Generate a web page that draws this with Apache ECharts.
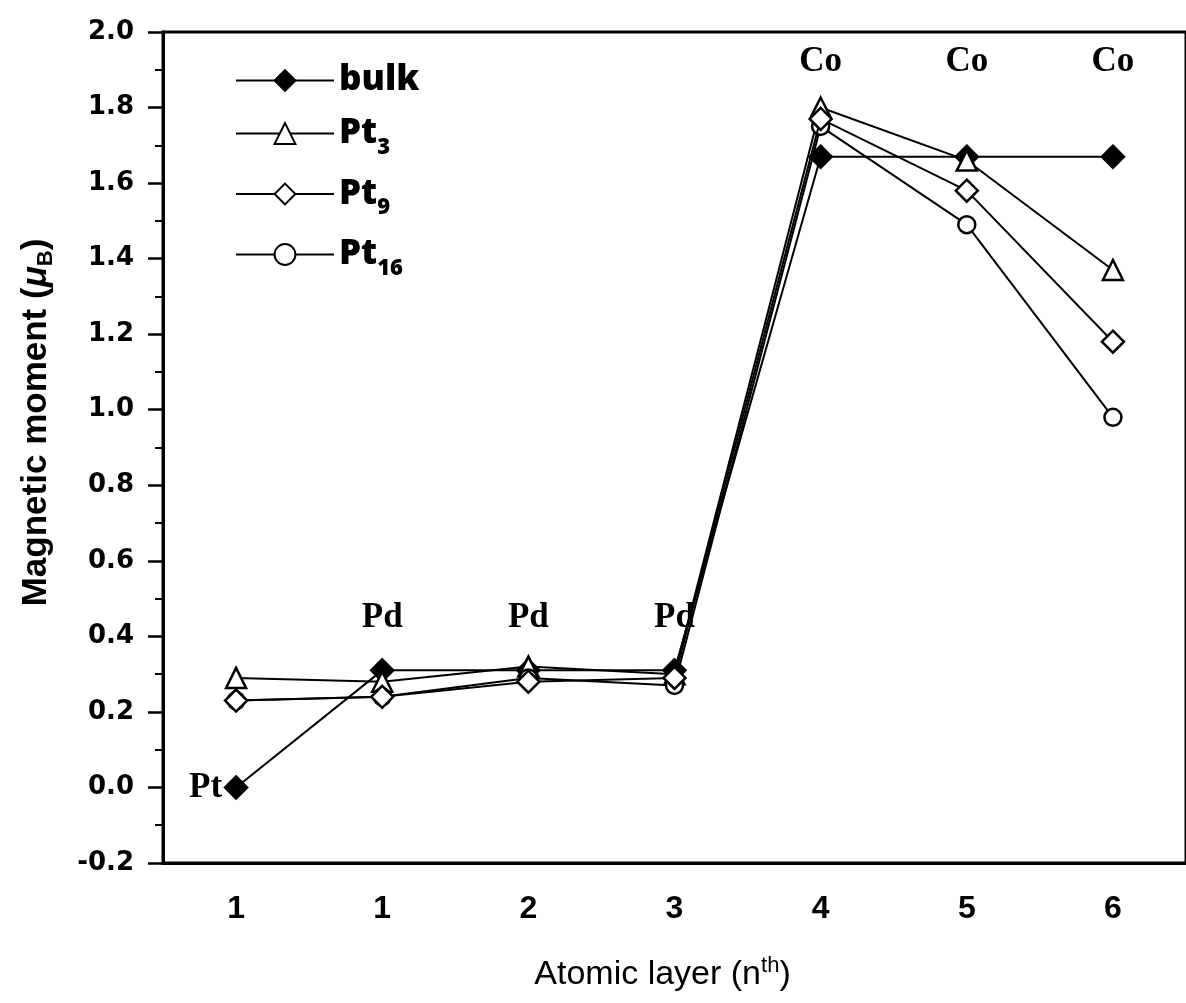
<!DOCTYPE html>
<html>
<head>
<meta charset="utf-8">
<script src="https://cdn.jsdelivr.net/npm/echarts@6/dist/echarts.min.js"></script>
<style>
html, body { margin: 0; padding: 0; background: #fff; }
#chart { width: 1186px; height: 1003px; }
</style>
</head>
<body>
<div id="chart"></div>
<script>
// atomic layer categories (x axis)
var layers = ['1', '1', '2', '3', '4', '5', '6'];
// element of each layer, with where its label sits (y value)
var elements = ['Pt', 'Pd', 'Pd', 'Pd', 'Co', 'Co', 'Co'];
var elementY = [0.0, 0.45, 0.45, 0.45, 1.92, 1.92, 1.92];

// magnetic moments (muB)
var bulk = [0.00, 0.31, 0.31, 0.31, 1.67, 1.67, 1.67];
var pt3  = [0.29, 0.28, 0.32, 0.30, 1.80, 1.66, 1.37];
var pt9  = [0.23, 0.24, 0.28, 0.29, 1.77, 1.58, 1.18];
var pt16 = [0.23, 0.24, 0.29, 0.27, 1.75, 1.49, 0.98];

var yTicks = { min: -0.2, max: 2.0, interval: 0.2 };

var chart = echarts.init(document.getElementById('chart'));

function lineSeries(name, data, symbol, filled, z) {
    return {
        name: name,
        type: 'line',
        data: data,
        symbol: symbol,
        symbolSize: symbol === 'triangle' ? 20 : (symbol === 'circle' ? 17 : 22),
        lineStyle: { color: '#000', width: 2 },
        itemStyle: {
            color: filled ? '#000' : '#fff',
            borderColor: '#000',
            borderWidth: 2.5
        },
        emphasis: { disabled: true },
        z: z
    };
}

var labelData = elements.map(function (e, i) {
    return {
        value: [i, elementY[i]],
        name: e,
        label: i === 0 ? { position: 'left', distance: 14 } : { position: 'inside' }
    };
});

var option = {
    animation: false,
    backgroundColor: '#fff',
    grid: {
        left: 163,
        top: 32,
        width: 1036,
        height: 831,
        show: true,
        borderColor: '#000',
        borderWidth: 3
    },
    legend: {
        orient: 'vertical',
        left: 230,
        top: 58,
        itemWidth: 98,
        itemHeight: 26,
        itemGap: 18,
        selectedMode: false,
        data: ['bulk', 'Pt3', 'Pt9', 'Pt16'],
        formatter: function (n) {
            if (n === 'bulk') return '{b|bulk}';
            return '{b|Pt}{s|' + n.slice(2) + '}';
        },
        textStyle: {
            rich: {
                b: { fontFamily: 'Open Sans', fontWeight: 800, fontSize: 35, color: '#000' },
                s: { fontFamily: 'Open Sans', fontWeight: 800, fontSize: 22, color: '#000', padding: [28, 0, 0, 0] }
            }
        }
    },
    xAxis: {
        type: 'category',
        data: layers,
        boundaryGap: true,
        name: 'Atomic layer (n{sup|th})',
        nameLocation: 'middle',
        nameGap: 92,
        nameTextStyle: {
            fontFamily: 'Liberation Sans',
            fontSize: 34,
            color: '#000',
            padding: [0, 24, 0, 0],
            rich: {
                sup: { fontSize: 22, verticalAlign: 'top', padding: [0, 0, 18, 0], fontFamily: 'Liberation Sans', color: '#000' }
            }
        },
        axisLine: { onZero: false, lineStyle: { color: '#000', width: 3 } },
        axisTick: { alignWithLabel: true, length: 19, lineStyle: { color: '#000', width: 2.5 } },
        axisLabel: {
            margin: 30,
            fontFamily: 'Liberation Sans',
            fontWeight: 'bold',
            fontSize: 32,
            color: '#000'
        },
        splitLine: { show: false }
    },
    yAxis: {
        type: 'value',
        min: yTicks.min,
        max: yTicks.max,
        interval: yTicks.interval,
        name: 'Magnetic moment ({i|μ}{sub|B})',
        nameLocation: 'middle',
        nameRotate: 90,
        nameGap: 106,
        nameTextStyle: {
            fontFamily: 'Liberation Sans',
            fontWeight: 'bold',
            fontSize: 35,
            color: '#000',
            padding: [0, 0, 0, 50],
            rich: {
                i: { fontStyle: 'italic', fontWeight: 'bold', fontSize: 35, fontFamily: 'Liberation Sans', color: '#000' },
                sub: { fontSize: 22, fontWeight: 'bold', padding: [20, 0, 0, 0], fontFamily: 'Liberation Sans', color: '#000' }
            }
        },
        axisLine: { show: true, lineStyle: { color: '#000', width: 3 } },
        axisTick: { show: true, length: 15, lineStyle: { color: '#000', width: 2.5 } },
        minorTick: { show: true, splitNumber: 2, length: 8, lineStyle: { color: '#000', width: 2 } },
        axisLabel: {
            margin: 29,
            fontFamily: 'DejaVu Sans',
            fontWeight: 'bold',
            fontSize: 26,
            color: '#000',
            formatter: function (v) { return v.toFixed(1); }
        },
        splitLine: { show: false }
    },
    series: [
        lineSeries('bulk', bulk, 'diamond', true, 3),
        lineSeries('Pt3', pt3, 'triangle', false, 3),
        lineSeries('Pt16', pt16, 'circle', false, 3),
        lineSeries('Pt9', pt9, 'diamond', false, 4),
        {
            name: 'elements',
            type: 'scatter',
            data: labelData,
            symbolSize: 0,
            itemStyle: { color: '#000', opacity: 1 },
            label: {
                show: true,
                formatter: '{b}',
                fontFamily: 'Liberation Serif',
                fontWeight: 'bold',
                fontSize: 35,
                color: '#000',
                opacity: 1
            },
            silent: true,
            z: 5
        }
    ]
};
chart.setOption(option);
window.addEventListener('resize', function () {
    chart.resize();
});
</script>
</body>
</html>
